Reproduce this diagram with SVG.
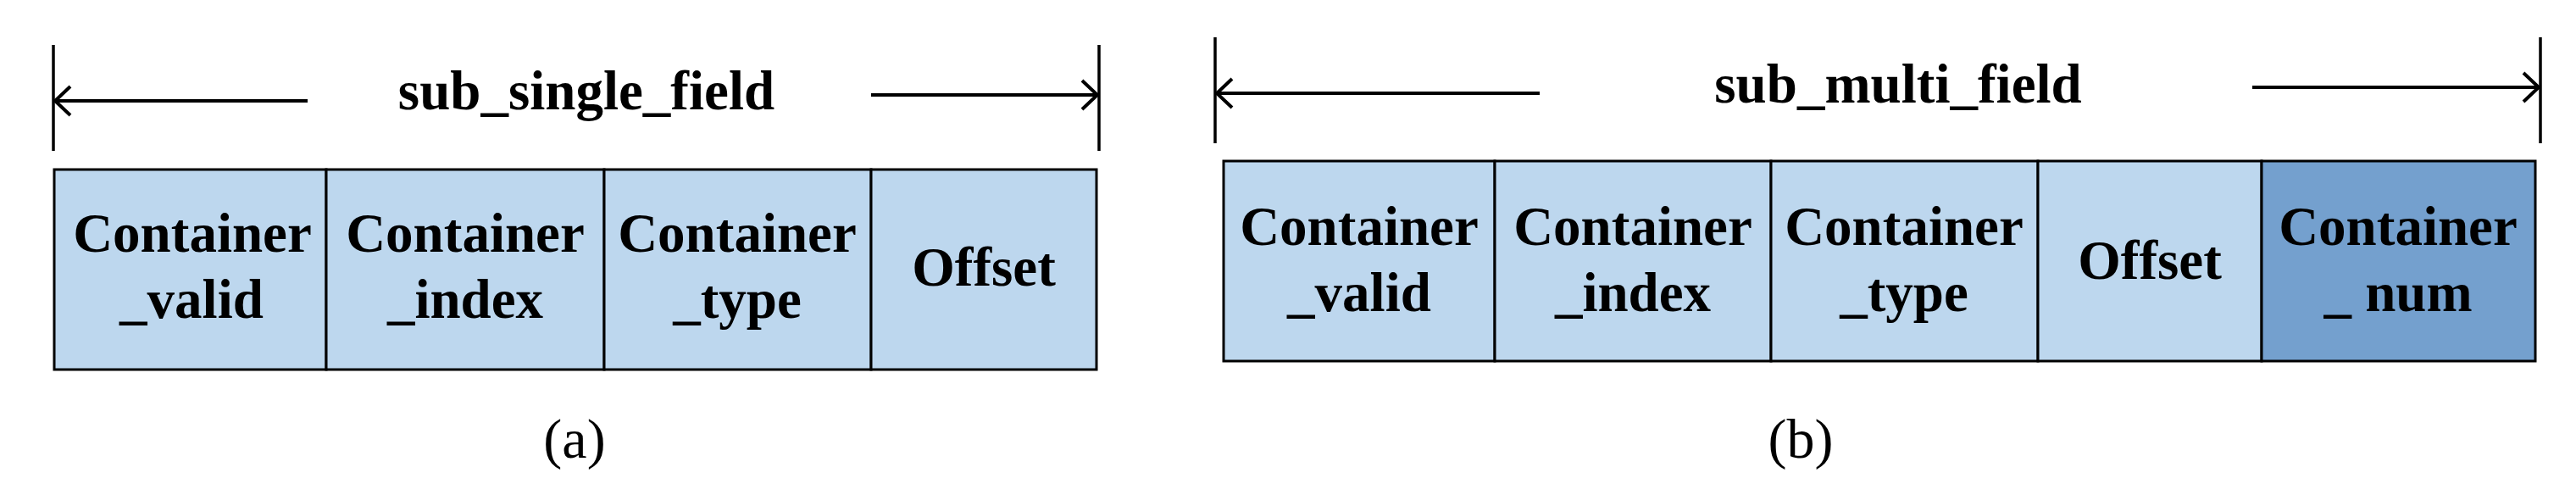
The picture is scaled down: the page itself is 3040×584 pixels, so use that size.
<svg xmlns="http://www.w3.org/2000/svg" width="3040" height="584" viewBox="0 0 3040 584">
<style>
.cell{fill:#BDD7EE;stroke:#000;stroke-width:3}
.dark{fill:#74A0CE}
.t{font-family:"Liberation Serif","Times New Roman",serif;font-weight:bold;font-size:65px;text-anchor:middle;fill:#000}
.cap{font-family:"Liberation Serif","Times New Roman",serif;font-size:66px;text-anchor:middle;fill:#000}
.dim{stroke:#000;stroke-width:4;fill:none}
.tick{stroke:#000;stroke-width:3.5;fill:none}
</style>
<defs>
<marker id="chev" markerUnits="userSpaceOnUse" markerWidth="30" markerHeight="40" viewBox="-22 -20 26 40" refX="0" refY="0" orient="auto">
<path d="M-18,-17 L0,0 L-18,17" fill="none" stroke="#000" stroke-width="4"/>
</marker>
</defs>
<rect width="3040" height="584" fill="#fff"/>
<g id="connectors">
<line class="tick" x1="63" y1="53" x2="63" y2="178"/>
<line class="tick" x1="1297" y1="53" x2="1297" y2="178"/>
<line class="dim" x1="363" y1="119" x2="65" y2="119" marker-end="url(#chev)"/>
<line class="dim" x1="1028" y1="112" x2="1295" y2="112" marker-end="url(#chev)"/>
<line class="tick" x1="1434" y1="44" x2="1434" y2="169"/>
<line class="tick" x1="2998" y1="44" x2="2998" y2="169"/>
<line class="dim" x1="1817" y1="110" x2="1436" y2="110" marker-end="url(#chev)"/>
<line class="dim" x1="2658" y1="103" x2="2996" y2="103" marker-end="url(#chev)"/>
</g>
<g id="label-a"><text class="t" x="692" y="129">sub_single_field</text></g>
<g id="label-b"><text class="t" x="2240" y="121">sub_multi_field</text></g>
<g id="a-valid"><rect class="cell" x="64" y="200" width="321" height="236"/><text class="t" x="227" y="297">Container</text><text class="t" x="226" y="375">_valid</text></g>
<g id="a-index"><rect class="cell" x="385" y="200" width="328" height="236"/><text class="t" x="549" y="297">Container</text><text class="t" x="549" y="375">_index</text></g>
<g id="a-type"><rect class="cell" x="713" y="200" width="315" height="236"/><text class="t" x="870" y="297">Container</text><text class="t" x="870" y="375">_type</text></g>
<g id="a-offset"><rect class="cell" x="1028" y="200" width="266" height="236"/><text class="t" x="1161" y="337">Offset</text></g>
<g id="b-valid"><rect class="cell" x="1444" y="190" width="320" height="236"/><text class="t" x="1604" y="289">Container</text><text class="t" x="1604" y="367">_valid</text></g>
<g id="b-index"><rect class="cell" x="1764" y="190" width="326" height="236"/><text class="t" x="1927" y="289">Container</text><text class="t" x="1927" y="367">_index</text></g>
<g id="b-type"><rect class="cell" x="2090" y="190" width="315" height="236"/><text class="t" x="2247" y="289">Container</text><text class="t" x="2247" y="367">_type</text></g>
<g id="b-offset"><rect class="cell" x="2405" y="190" width="264" height="236"/><text class="t" x="2537" y="329">Offset</text></g>
<g id="b-num"><rect class="cell dark" x="2669" y="190" width="323" height="236"/><text class="t" x="2830" y="289">Container</text><text class="t" x="2830" y="367">_ num</text></g>
<g id="cap-a"><text class="cap" x="678" y="540">(a)</text></g>
<g id="cap-b"><text class="cap" x="2125" y="540">(b)</text></g>
</svg>
